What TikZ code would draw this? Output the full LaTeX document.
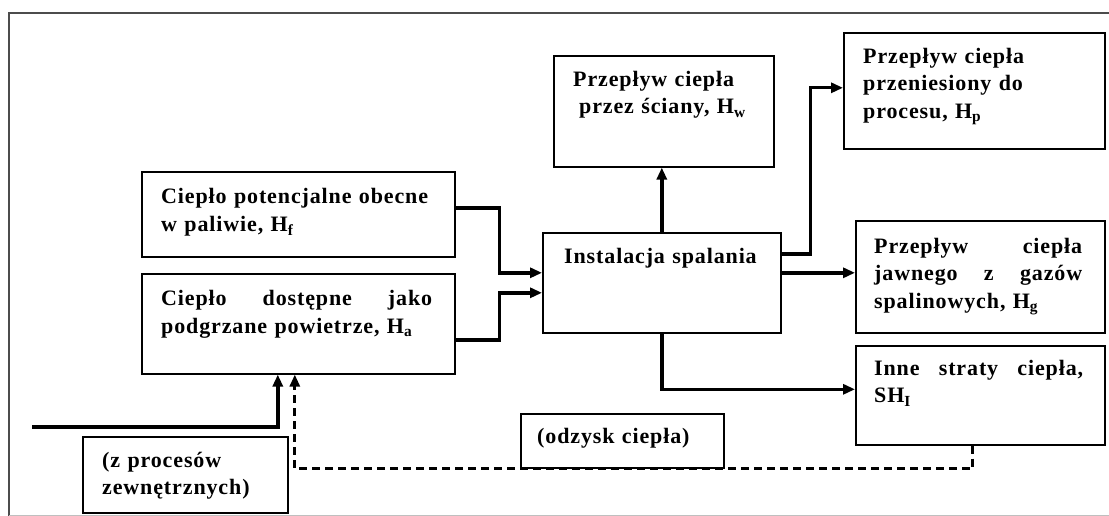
\documentclass[tikz,border=0pt]{standalone}
\usepackage{fontspec}
\newfontfamily\opisfont{Liberation Serif}[LetterSpace=4.0]
\usetikzlibrary{arrows.meta}

% one line spread to a given width, words split by \hfill
\newcommand\rozciag[2]{\makebox[#1][l]{#2}}

\begin{document}
\begin{tikzpicture}[
  x=1pt, y=-1pt,
  blok/.style={draw, line width=1.6pt, inner sep=0pt, anchor=north west},
  opis/.style={anchor=north west, inner sep=0pt, align=left,
    font=\opisfont\bfseries\fontsize{22}{27.5}\selectfont},
  strz/.style={-{Triangle[length=12pt,width=10pt]}, line width=3.4pt},
  powrot/.style={strz, dash pattern=on 8pt off 5pt, line width=2.8pt},
  ramka/.style={draw=black!70, line width=1.6pt}
]
\useasboundingbox (0,0) rectangle (1109,516);

% outer frame
\draw[ramka] (9,516) -- (9,13) -- (1109,13);
\draw[black!25, line width=0.8pt] (9,515) -- (1109,515);

% boxes
\node[blok, minimum width=313pt, minimum height=85pt] (hf) at (141,171) {};
\node[blok, minimum width=313pt, minimum height=100pt] (ha) at (141,273) {};
\node[blok, minimum width=205pt, minimum height=76pt] (zew) at (82,436) {};
\node[blok, minimum width=238pt, minimum height=100pt] (inst) at (542,232) {};
\node[blok, minimum width=220pt, minimum height=111pt] (hw) at (553,55) {};
\node[blok, minimum width=261pt, minimum height=116pt] (hp) at (843,32) {};
\node[blok, minimum width=249pt, minimum height=112pt] (hg) at (855,220) {};
\node[blok, minimum width=249pt, minimum height=99pt] (shl) at (855,345) {};
\node[blok, minimum width=203pt, minimum height=54pt] (odz) at (520,413) {};

% texts
\node[opis, text width=272pt] (hf-t) at ([shift={(20,13.5)}]hf.north west)
  {\strut Ciepło potencjalne obecne\\w paliwie, H\textsubscript{f}};
\node[opis, text width=271pt] (ha-t) at ([shift={(20,13.5)}]ha.north west)
  {\strut\rozciag{271pt}{Ciepło\hfill dostępne\hfill jako}\\podgrzane powietrze, H\textsubscript{a}};
\node[opis, text width=180pt] (zew-t) at ([shift={(20,12)}]zew.north west)
  {\strut(z procesów\\zewnętrznych)};
\node[opis, text width=200pt] (inst-t) at ([shift={(22,12)}]inst.north west)
  {\strut Instalacja spalania};
\node[opis, text width=190pt] (hw-t) at ([shift={(20,12)}]hw.north west)
  {\strut Przepływ ciepła\\\hspace*{6pt}przez ściany, H\textsubscript{w}};
\node[opis, text width=220pt] (hp-t) at ([shift={(20,12)}]hp.north west)
  {\strut Przepływ ciepła\\przeniesiony do\\procesu, H\textsubscript{p}};
\node[opis, text width=208pt] (hg-t) at ([shift={(19,14)}]hg.north west)
  {\strut\rozciag{208pt}{Przepływ\hfill ciepła}\\\strut\rozciag{208pt}{jawnego\hfill z\hfill gazów}\\spalinowych, H\textsubscript{g}};
\node[opis, text width=209pt] (shl-t) at ([shift={(19,11)}]shl.north west)
  {\strut\rozciag{209pt}{Inne\hfill straty\hfill ciepła,}\\SH\textsubscript{I}};
\node[opis, text width=190pt] (odz-t) at ([shift={(17,11)}]odz.north west)
  {\strut(odzysk ciepła)};

% flows into the installation
\draw[strz] ([yshift=6.5pt]hf.east) -- ++(44,0) |- ([yshift=10pt]inst.west);
\draw[strz] ([yshift=-16pt]ha.east) -- ++(44,0) |- ([yshift=-10pt]inst.west);

% flows out of the installation
\draw[strz] (inst.north) -- (inst.north |- hw.south);
\draw[strz] ([yshift=29pt]inst.east) -- ++(29,0) |- ([yshift=3pt]hp.west);
\coordinate (gaz) at ([yshift=10pt]inst.east);
\draw[strz] (gaz) -- (gaz -| hg.west);
\draw[strz] (inst.south) |- ([yshift=6pt]shl.west);

% outside supply and heat recovery
\coordinate (wej) at (32,427);
\draw[strz] (wej) -| ([xshift=-20.5pt]ha.south);
\draw[powrot] ([xshift=-7.5pt]shl.south) |- (odz.south) -| ([xshift=-3.5pt]ha.south);
\end{tikzpicture}
\end{document}
